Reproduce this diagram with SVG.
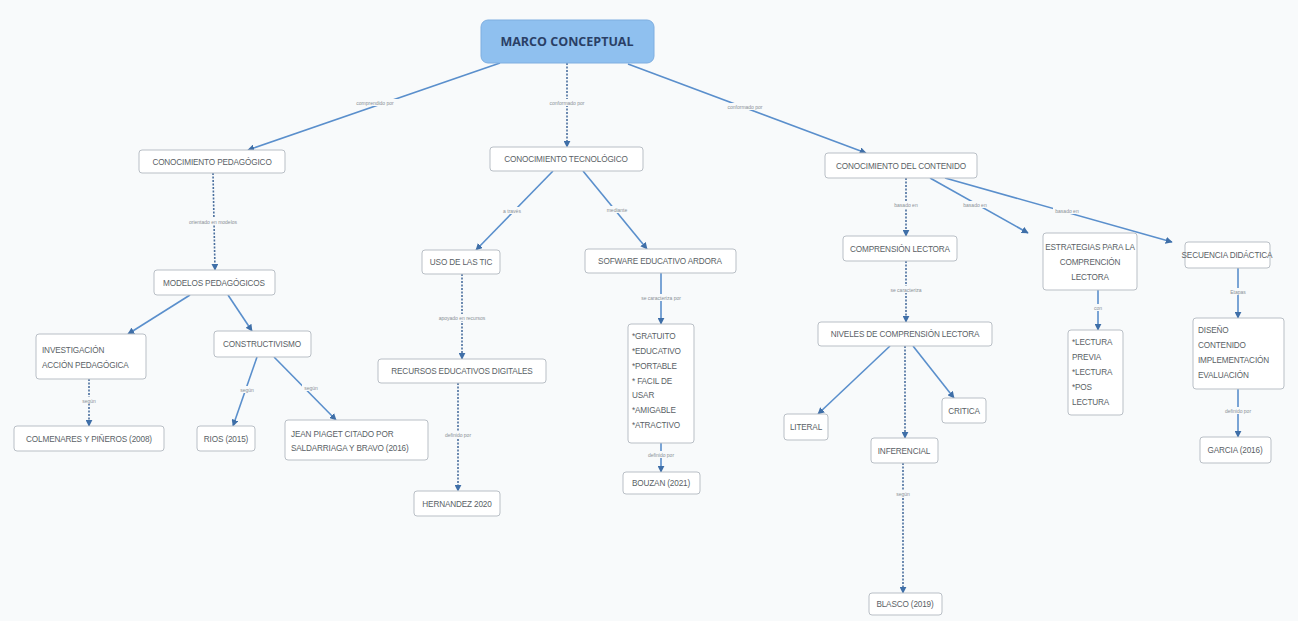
<svg xmlns="http://www.w3.org/2000/svg" width="1298" height="621" viewBox="0 0 1298 621">
<defs>
<marker id="ah" viewBox="0 0 10 10" refX="9" refY="5" markerWidth="7" markerHeight="7" orient="auto-start-reverse" markerUnits="userSpaceOnUse">
<path d="M0,0 L10,5 L0,10 z" fill="#3f6fa8"/>
</marker>
<style>
.bg{fill:#f8fafb}
.n{fill:#ffffff;stroke:#b9bfc6;stroke-width:1}
.t{font-family:"Liberation Sans","Open Sans",sans-serif;font-size:8.2px;letter-spacing:-0.15px;fill:#5a5f66;text-anchor:middle}
.root{fill:#8fc0ef;stroke:#7eaee0;stroke-width:1}
.rt{font-family:"Open Sans","Liberation Sans",sans-serif;font-size:12.5px;font-weight:bold;fill:#2a3f66;text-anchor:middle}
.c{stroke:#5a8fcc;stroke-width:1.6;fill:none;marker-end:url(#ah)}
.d{stroke:#4a6f9e;stroke-width:1.6;fill:none;stroke-dasharray:2 1.5;marker-end:url(#ah)}
.lb{fill:#f8fafb}
.lt{font-family:"Liberation Sans",sans-serif;font-size:5px;fill:#8a9096;text-anchor:middle}
</style>
</defs>
<rect class="bg" x="0" y="0" width="1298" height="621"/>
<g id="connectors">
<line class="c" x1="500" y1="63" x2="248" y2="150"/>
<line class="d" x1="567" y1="63" x2="567" y2="147"/>
<line class="c" x1="628" y1="64" x2="866" y2="153"/>
<line class="d" x1="213" y1="173" x2="215" y2="270"/>
<line class="c" x1="190" y1="295" x2="128" y2="334"/>
<line class="c" x1="228" y1="295" x2="252" y2="331"/>
<line class="d" x1="89" y1="379" x2="89" y2="426"/>
<line class="c" x1="257" y1="357" x2="233" y2="426"/>
<line class="c" x1="274" y1="357" x2="336" y2="420"/>
<line class="c" x1="553" y1="171" x2="476" y2="250"/>
<line class="c" x1="583" y1="171" x2="647" y2="249"/>
<line class="d" x1="462" y1="274" x2="462" y2="359"/>
<line class="d" x1="458" y1="383" x2="458" y2="491"/>
<line class="c" x1="661" y1="273" x2="661" y2="324"/>
<line class="c" x1="661" y1="443" x2="661" y2="472"/>
<line class="d" x1="906" y1="178" x2="906" y2="236"/>
<line class="c" x1="930" y1="178" x2="1028" y2="233"/>
<line class="c" x1="945" y1="178" x2="1172" y2="242"/>
<line class="d" x1="906" y1="261" x2="906" y2="322"/>
<line class="c" x1="890" y1="346" x2="818" y2="414"/>
<line class="c" x1="913" y1="346" x2="954" y2="398"/>
<line class="d" x1="905" y1="346" x2="905" y2="438"/>
<line class="d" x1="903" y1="463" x2="903" y2="593"/>
<line class="c" x1="1098" y1="290" x2="1098" y2="330"/>
<line class="c" x1="1238" y1="268" x2="1238" y2="318"/>
<line class="c" x1="1238" y1="389" x2="1238" y2="437"/>
<g id="labels">
<rect class="lb" x="350" y="99" width="50" height="7"/><text class="lt" x="375" y="104.5">comprendido por</text>
<rect class="lb" x="544" y="99" width="46" height="7"/><text class="lt" x="567" y="104.5">conformado por</text>
<rect class="lb" x="722" y="103" width="46" height="7"/><text class="lt" x="745" y="108.5">conformado por</text>
<rect class="lb" x="185" y="218" width="56" height="7"/><text class="lt" x="213" y="223.5">orientado en modelos</text>
<rect class="lb" x="80" y="397" width="18" height="7"/><text class="lt" x="89" y="402.5">según</text>
<rect class="lb" x="238" y="386" width="18" height="7"/><text class="lt" x="247" y="391.5">según</text>
<rect class="lb" x="302" y="384" width="18" height="7"/><text class="lt" x="311" y="389.5">según</text>
<rect class="lb" x="500" y="207" width="24" height="7"/><text class="lt" x="512" y="212.5">a través</text>
<rect class="lb" x="604" y="206" width="26" height="7"/><text class="lt" x="617" y="211.5">mediante</text>
<rect class="lb" x="434" y="314" width="56" height="7"/><text class="lt" x="462" y="319.5">apoyado en recursos</text>
<rect class="lb" x="442" y="431" width="32" height="7"/><text class="lt" x="458" y="436.5">definido por</text>
<rect class="lb" x="637" y="294" width="48" height="7"/><text class="lt" x="661" y="299.5">se caracteriza por</text>
<rect class="lb" x="645" y="451" width="32" height="7"/><text class="lt" x="661" y="456.5">definido por</text>
<rect class="lb" x="892" y="201" width="28" height="7"/><text class="lt" x="906" y="206.5">basado en</text>
<rect class="lb" x="961" y="201" width="28" height="7"/><text class="lt" x="975" y="206.5">basado en</text>
<rect class="lb" x="1053" y="207" width="28" height="7"/><text class="lt" x="1067" y="212.5">basado en</text>
<rect class="lb" x="884" y="286" width="44" height="7"/><text class="lt" x="906" y="291.5">se caracteriza</text>
<rect class="lb" x="894" y="490" width="18" height="7"/><text class="lt" x="903" y="495.5">según</text>
<rect class="lb" x="1091" y="304" width="14" height="7"/><text class="lt" x="1098" y="309.5">con</text>
<rect class="lb" x="1228" y="288" width="20" height="7"/><text class="lt" x="1238" y="293.5">Etapas</text>
<rect class="lb" x="1222" y="407" width="32" height="7"/><text class="lt" x="1238" y="412.5">definido por</text>
</g>
</g>
<g id="marco"><rect class="root" x="481" y="20" width="173" height="43" rx="7"/><text class="rt" x="567" y="46">MARCO CONCEPTUAL</text></g>
<g id="ped"><rect class="n" x="139" y="150" width="146" height="23" rx="3"/><text class="t" x="212" y="164.5">CONOCIMIENTO PEDAGÓGICO</text></g>
<g id="tec"><rect class="n" x="490" y="147" width="153" height="24" rx="3"/><text class="t" x="566" y="162">CONOCIMIENTO TECNOLÓGICO</text></g>
<g id="cont"><rect class="n" x="825" y="153" width="152" height="25" rx="3"/><text class="t" x="901" y="168.5">CONOCIMIENTO DEL CONTENIDO</text></g>
<g id="modelos"><rect class="n" x="154" y="270" width="121" height="25" rx="3"/><text class="t" x="214" y="285.5">MODELOS PEDAGÓGICOS</text></g>
<g id="inv"><rect class="n" x="36" y="334" width="110" height="45" rx="3"/><text class="t" x="42" y="353" style="text-anchor:start">INVESTIGACIÓN</text><text class="t" x="42" y="368" style="text-anchor:start">ACCIÓN PEDAGÓGICA</text></g>
<g id="const"><rect class="n" x="214" y="331" width="97" height="26" rx="3"/><text class="t" x="262" y="347">CONSTRUCTIVISMO</text></g>
<g id="colm"><rect class="n" x="14" y="426" width="150" height="25" rx="3"/><text class="t" x="89" y="441.5">COLMENARES Y PIÑEROS (2008)</text></g>
<g id="rios"><rect class="n" x="197" y="426" width="58" height="25" rx="3"/><text class="t" x="226" y="441.5">RIOS (2015)</text></g>
<g id="piaget"><rect class="n" x="285" y="420" width="143" height="40" rx="3"/><text class="t" x="291" y="437" style="text-anchor:start">JEAN PIAGET CITADO POR</text><text class="t" x="291" y="451" style="text-anchor:start">SALDARRIAGA Y BRAVO (2016)</text></g>
<g id="uso"><rect class="n" x="422" y="250" width="78" height="24" rx="3"/><text class="t" x="461" y="265">USO DE LAS TIC</text></g>
<g id="sof"><rect class="n" x="585" y="249" width="151" height="24" rx="3"/><text class="t" x="660" y="264">SOFWARE EDUCATIVO ARDORA</text></g>
<g id="rec"><rect class="n" x="378" y="359" width="168" height="24" rx="3"/><text class="t" x="462" y="374">RECURSOS EDUCATIVOS DIGITALES</text></g>
<g id="hern"><rect class="n" x="414" y="491" width="86" height="25" rx="3"/><text class="t" x="457" y="506.5">HERNANDEZ 2020</text></g>
<g id="caract"><rect class="n" x="628" y="324" width="66" height="119" rx="3"/>
<text class="t" x="632" y="339" style="text-anchor:start">*GRATUITO</text>
<text class="t" x="632" y="354" style="text-anchor:start">*EDUCATIVO</text>
<text class="t" x="632" y="369" style="text-anchor:start">*PORTABLE</text>
<text class="t" x="632" y="384" style="text-anchor:start">* FACIL DE</text>
<text class="t" x="632" y="398" style="text-anchor:start">USAR</text>
<text class="t" x="632" y="413" style="text-anchor:start">*AMIGABLE</text>
<text class="t" x="632" y="428" style="text-anchor:start">*ATRACTIVO</text></g>
<g id="bouzan"><rect class="n" x="623" y="472" width="77" height="22" rx="3"/><text class="t" x="661" y="486">BOUZAN (2021)</text></g>
<g id="comp"><rect class="n" x="843" y="236" width="114" height="25" rx="3"/><text class="t" x="900" y="251.5">COMPRENSIÓN LECTORA</text></g>
<g id="estr"><rect class="n" x="1043" y="233" width="94" height="57" rx="3"/><text class="t" x="1090" y="250">ESTRATEGIAS PARA LA</text><text class="t" x="1090" y="265">COMPRENCIÓN</text><text class="t" x="1090" y="280">LECTORA</text></g>
<g id="sec"><rect class="n" x="1185" y="242" width="85" height="26" rx="3"/><text class="t" x="1227" y="258">SECUENCIA DIDÁCTICA</text></g>
<g id="niv"><rect class="n" x="818" y="322" width="174" height="24" rx="3"/><text class="t" x="905" y="337">NIVELES DE COMPRENSIÓN LECTORA</text></g>
<g id="literal"><rect class="n" x="784" y="414" width="44" height="26" rx="3"/><text class="t" x="806" y="430">LITERAL</text></g>
<g id="critica"><rect class="n" x="942" y="398" width="44" height="25" rx="3"/><text class="t" x="964" y="413.5">CRITICA</text></g>
<g id="inf"><rect class="n" x="871" y="438" width="67" height="25" rx="3"/><text class="t" x="904" y="453.5">INFERENCIAL</text></g>
<g id="blasco"><rect class="n" x="869" y="593" width="73" height="22" rx="3"/><text class="t" x="905" y="607">BLASCO (2019)</text></g>
<g id="lect"><rect class="n" x="1068" y="330" width="55" height="85" rx="3"/>
<text class="t" x="1072" y="345" style="text-anchor:start">*LECTURA</text>
<text class="t" x="1072" y="360" style="text-anchor:start">PREVIA</text>
<text class="t" x="1072" y="375" style="text-anchor:start">*LECTURA</text>
<text class="t" x="1072" y="390" style="text-anchor:start">*POS</text>
<text class="t" x="1072" y="405" style="text-anchor:start">LECTURA</text></g>
<g id="etapas"><rect class="n" x="1193" y="318" width="91" height="71" rx="3"/>
<text class="t" x="1198" y="333" style="text-anchor:start">DISEÑO</text>
<text class="t" x="1198" y="348" style="text-anchor:start">CONTENIDO</text>
<text class="t" x="1198" y="363" style="text-anchor:start">IMPLEMENTACIÓN</text>
<text class="t" x="1198" y="378" style="text-anchor:start">EVALUACIÓN</text></g>
<g id="garcia"><rect class="n" x="1200" y="437" width="71" height="26" rx="3"/><text class="t" x="1235" y="453">GARCIA (2016)</text></g>
</svg>
